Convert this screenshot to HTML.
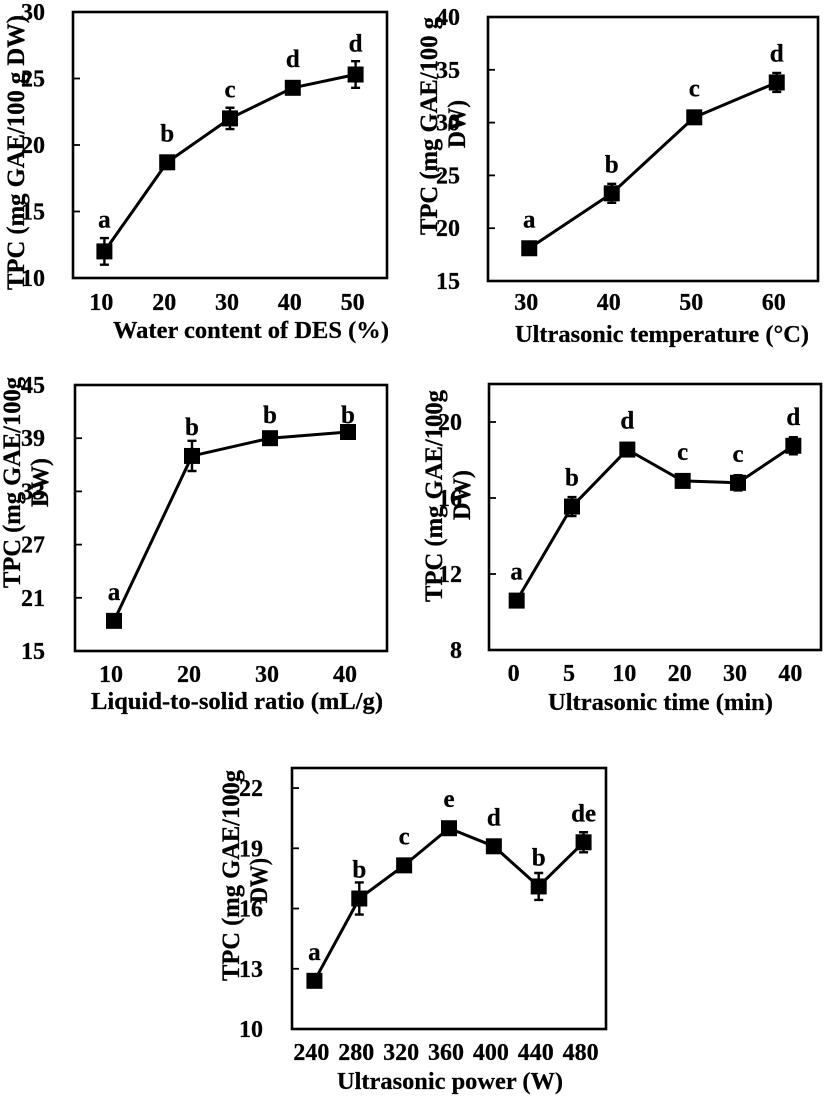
<!DOCTYPE html>
<html lang="en">
<head>
<meta charset="utf-8">
<title>TPC extraction charts</title>
<style>
html,body{margin:0;padding:0;background:#fff;}
svg{display:block;filter:blur(0.35px);}
text{font-family:"Liberation Serif",serif;font-weight:bold;fill:#000;stroke:#000;stroke-width:0.25px;}
.frame{fill:none;stroke:#000;stroke-width:2.6;}
.xt{font-size:24.5px;}
.yt{font-size:25px;}
</style>
</head>
<body>
<svg id="figure" width="827" height="1098" viewBox="0 0 827 1098" xmlns="http://www.w3.org/2000/svg">
  <rect width="827" height="1098" fill="#fff"/>

  <g id="p1">
    <rect class="frame" x="73" y="12" width="314" height="266"/>
    <text class="xt" x="113" y="338" textLength="276" lengthAdjust="spacingAndGlyphs">Water content of DES (%)</text>
    <text class="yt" transform="translate(24,290) rotate(-90)" textLength="275" lengthAdjust="spacingAndGlyphs">TPC (mg GAE/100 g DW)</text>
  </g>

  <g id="p2">
    <rect class="frame" x="488" y="17" width="330" height="264"/>
    <text class="xt" x="515" y="342" textLength="294" lengthAdjust="spacingAndGlyphs">Ultrasonic temperature (°C)</text>
    <text class="yt" transform="translate(437,235) rotate(-90)" textLength="218" lengthAdjust="spacingAndGlyphs">TPC (mg GAE/100 g</text>
    <text class="yt" transform="translate(465,148) rotate(-90)" textLength="48" lengthAdjust="spacingAndGlyphs">DW)</text>
  </g>

  <g id="p3">
    <rect class="frame" x="75" y="385" width="312" height="266"/>
    <text class="xt" x="91" y="709" textLength="292" lengthAdjust="spacingAndGlyphs">Liquid-to-solid ratio (mL/g)</text>
    <text class="yt" transform="translate(20,588) rotate(-90)" textLength="211" lengthAdjust="spacingAndGlyphs">TPC (mg GAE/100g</text>
    <text class="yt" transform="translate(48,507) rotate(-90)" textLength="49" lengthAdjust="spacingAndGlyphs">DW)</text>
  </g>

  <g id="p4">
    <rect class="frame" x="489" y="384" width="332" height="266"/>
    <text class="xt" x="548" y="710" textLength="225" lengthAdjust="spacingAndGlyphs">Ultrasonic time (min)</text>
    <text class="yt" transform="translate(442,602) rotate(-90)" textLength="212" lengthAdjust="spacingAndGlyphs">TPC (mg GAE/100g</text>
    <text class="yt" transform="translate(470,520) rotate(-90)" textLength="50" lengthAdjust="spacingAndGlyphs">DW)</text>
  </g>

  <g id="p5">
    <rect class="frame" x="292" y="768" width="314" height="261"/>
    <text class="xt" x="337" y="1089" textLength="226" lengthAdjust="spacingAndGlyphs">Ultrasonic power (W)</text>
    <text class="yt" transform="translate(239,981) rotate(-90)" textLength="211" lengthAdjust="spacingAndGlyphs">TPC (mg GAE/100g</text>
    <text class="yt" transform="translate(267,903) rotate(-90)" textLength="45" lengthAdjust="spacingAndGlyphs">DW)</text>
  </g>
</svg>

<script>
/* Chart 1: water content */
const p1Categories = ["10", "20", "30", "40", "50"];
const p1Values = [12.0, 18.7, 22.0, 24.3, 25.3];
const p1Errors = [1.0, 0.5, 0.8, 0.3, 1.0];
const p1Letters = ["a", "b", "c", "d", "d"];
const p1Ticks = [10, 15, 20, 25, 30];
const p1Domain = [10, 30];

/* Chart 2: temperature */
const p2Categories = ["30", "40", "50", "60"];
const p2Values = [18.1, 23.3, 30.5, 33.8];
const p2Errors = [0.2, 0.9, 0.3, 0.9];
const p2Letters = ["a", "b", "c", "d"];
const p2Ticks = [15, 20, 25, 30, 35, 40];
const p2Domain = [15, 40];

/* Chart 3: liquid-to-solid ratio */
const p3Categories = ["10", "20", "30", "40"];
const p3Values = [18.4, 37.0, 39.0, 39.7];
const p3Errors = [0.2, 1.7, 0.6, 0.5];
const p3Letters = ["a", "b", "b", "b"];
const p3Ticks = [15, 21, 27, 33, 39, 45];
const p3Domain = [15, 45];

/* Chart 4: ultrasonic time */
const p4Categories = ["0", "5", "10", "20", "30", "40"];
const p4Values = [10.6, 15.55, 18.55, 16.9, 16.8, 18.75];
const p4Errors = [0.1, 0.5, 0.25, 0.1, 0.4, 0.45];
const p4Letters = ["a", "b", "d", "c", "c", "d"];
const p4Ticks = [8, 12, 16, 20];
const p4Domain = [8, 22];

/* Chart 5: ultrasonic power */
const p5Categories = ["240", "280", "320", "360", "400", "440", "480"];
const p5Values = [12.4, 16.5, 18.15, 20.0, 19.1, 17.1, 19.3];
const p5Errors = [0.1, 0.8, 0.3, 0.2, 0.1, 0.67, 0.5];
const p5Letters = ["a", "b", "c", "e", "d", "b", "de"];
const p5Ticks = [10, 13, 16, 19, 22];
const p5Domain = [10, 23];

const NS = "http://www.w3.org/2000/svg";

function make(parent, tag, props) {
  const node = document.createElementNS(NS, tag);
  for (const key in props) node.setAttribute(key, props[key]);
  parent.appendChild(node);
  return node;
}

function drawChart(id, box, categories, values, errors, letters, ticks, domain) {
  const root = document.getElementById(id);
  const xScale = i => box.x + (i + 0.5) * box.w / categories.length;
  const yScale = v => box.y + box.h - (v - domain[0]) / (domain[1] - domain[0]) * box.h;

  ticks.forEach(t => {
    const tickMark = make(root, "line", {x1: box.x, x2: box.x + 7, y1: yScale(t), y2: yScale(t), stroke: "#000", "stroke-width": 1.8});
    
    
    const tickLabel = make(root, "text", {x: box.tickRight, y: yScale(t) + 8, "text-anchor": "end", "font-size": 24});
    
    
    tickLabel.textContent = t;
  });

  categories.forEach((c, i) => {
    const catLabel = make(root, "text", {x: xScale(i) - 3, y: box.catBase, "text-anchor": "middle", "font-size": 24});
    
    
    catLabel.textContent = c;
  });

  const series = make(root, "polyline", {
    points: values.map((v, i) => xScale(i) + "," + yScale(v)).join(" "),
    fill: "none", stroke: "#000", "stroke-width": 3, "stroke-linejoin": "round"
  });
  
  

  values.forEach((v, i) => {
    const cx = xScale(i), top = yScale(v + errors[i]), bottom = yScale(v - errors[i]);
    const err = make(root, "path", {
      d: "M" + (cx - 4.5) + " " + top + "H" + (cx + 4.5) + "M" + cx + " " + top + "V" + bottom + "M" + (cx - 4.5) + " " + bottom + "H" + (cx + 4.5),
      fill: "none", stroke: "#000", "stroke-width": 2.4
    });
    
    

    const point = make(root, "rect", {x: cx - 8, y: yScale(v) - 8, width: 16, height: 16, fill: "#000"});
    
    

    const gap = box.gaps ? box.gaps[i] : 21;
    const letter = make(root, "text", {x: cx, y: yScale(v) - gap, "text-anchor": "middle", "font-size": 25});
    
    
    letter.textContent = letters[i];
  });
}

drawChart("p1", {x: 73, y: 12, w: 314, h: 266, tickRight: 45, catBase: 310, gaps: [24, 21, 21, 21, 23]},
  p1Categories, p1Values, p1Errors, p1Letters, p1Ticks, p1Domain);
drawChart("p2", {x: 488, y: 17, w: 330, h: 264, tickRight: 460, catBase: 310},
  p2Categories, p2Values, p2Errors, p2Letters, p2Ticks, p2Domain);
drawChart("p3", {x: 75, y: 385, w: 312, h: 266, tickRight: 45, catBase: 682, gaps: [21, 21, 15, 9]},
  p3Categories, p3Values, p3Errors, p3Letters, p3Ticks, p3Domain);
drawChart("p4", {x: 489, y: 384, w: 332, h: 266, tickRight: 462, catBase: 681},
  p4Categories, p4Values, p4Errors, p4Letters, p4Ticks, p4Domain);
drawChart("p5", {x: 292, y: 768, w: 314, h: 261, tickRight: 263, catBase: 1060},
  p5Categories, p5Values, p5Errors, p5Letters, p5Ticks, p5Domain);
</script>
</body>
</html>
